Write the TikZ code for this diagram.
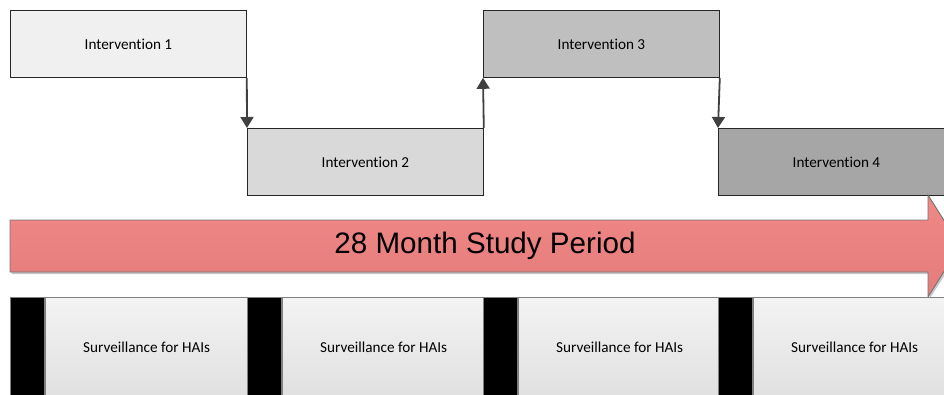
\documentclass[tikz,border=0pt]{standalone}
\usepackage{fontspec}
\setmainfont{Carlito}[Ligatures=NoCommon]
\newfontfamily\arialfont{Liberation Sans}
\usetikzlibrary{arrows.meta}

\definecolor{introne}{RGB}{240,240,240}
\definecolor{inttwo}{RGB}{217,217,217}
\definecolor{intthree}{RGB}{191,191,191}
\definecolor{intfour}{RGB}{166,166,166}
\definecolor{spantop}{RGB}{240,136,136}
\definecolor{spanbot}{RGB}{228,124,124}
\definecolor{survtop}{RGB}{243,243,243}
\definecolor{survbot}{RGB}{224,224,224}

\begin{document}
\begin{tikzpicture}[x=1pt,y=-1pt]
\tikzstyle{phase}=[rectangle, draw=black!85, line width=0.8pt, minimum width=236pt, minimum height=67pt, inner sep=0pt, anchor=north west, font=\fontsize{15.2}{18}\selectfont]
\tikzstyle{survey}=[rectangle, draw=black!50, line width=0.8pt, top color=survtop, bottom color=survbot, minimum width=203pt, minimum height=100pt, inner sep=0pt, anchor=north west, font=\fontsize{15.2}{18}\selectfont]
\tikzstyle{marker}=[rectangle, draw=black!50, fill=black, line width=0.8pt, minimum width=34pt, minimum height=100pt, inner sep=0pt, anchor=north west]
\tikzstyle{link}=[-{Triangle[length=11pt,width=13pt]}, line width=1.8pt, draw=black!75, color=black!75]

\useasboundingbox (0,0) rectangle (944,394);
\clip (0,0) rectangle (944,394);

% interventions
\node[phase, fill=introne] (int1) at (10,10) {Intervention 1};
\node[phase, fill=inttwo] (int2) at (247,128) {Intervention 2};
\node[phase, fill=intthree] (int3) at (483,10) {Intervention 3};
\node[phase, fill=intfour] (int4) at (718,128) {Intervention 4};

\draw[link] (int1.south east) -- (int2.north west);
\draw[link] (int2.north east) -- (int3.south west);
\draw[link] (int3.south east) -- (int4.north west);

% study period arrow
\fill[black!22] (11.5,222) -- (929.5,222) -- (929.5,197) -- (962,248) -- (929.5,299) -- (929.5,274) -- (11.5,274) -- cycle;
\path[draw=black!55, line width=0.9pt, top color=spantop, bottom color=spanbot]
  (10,220) -- (928,220) -- (928,195) -- (960,246) -- (928,297) -- (928,272) -- (10,272) -- cycle;
\node[font=\arialfont\fontsize{29.6}{33}\selectfont] (period) at (485,246) {28 Month Study Period};

% surveillance
\foreach \i/\x in {1/10, 2/247, 3/483, 4/718} {
\node[marker] (m\i) at (\x,297) {};
\node[survey] (s\i) at (m\i.north east) {Surveillance for HAIs};
}

\end{tikzpicture}
\end{document}
